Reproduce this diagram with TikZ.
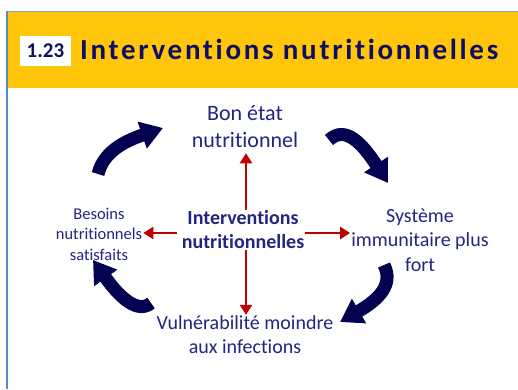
\documentclass[tikz,border=0pt]{standalone}
\usepackage{fontspec}
\setmainfont{Carlito}[Ligatures=NoCommon]
\newfontfamily\titlefont{Carlito}[LetterSpace=9.3,Ligatures=NoCommon]
\usetikzlibrary{arrows.meta}
\definecolor{hdr}{RGB}{255,198,11}
\definecolor{frameblue}{RGB}{92,138,200}
\definecolor{topgray}{RGB}{140,160,190}
\definecolor{titlenavy}{RGB}{14,14,100}
\definecolor{txtblue}{RGB}{36,36,130}
\definecolor{bignavy}{RGB}{2,2,80}
\definecolor{redarr}{RGB}{192,0,0}
\tikzset{
  txt/.style={align=center, text=txtblue, inner sep=1pt},
  redarrow/.style={draw=redarr, line width=2.8pt, -{Triangle[length=10pt,width=12pt]}},
  bigarrow/.style={draw=bignavy, line width=13pt, -{Triangle[length=22pt,width=27pt]}},
}
\begin{document}
\begin{tikzpicture}[x=1pt,y=-1pt]
\useasboundingbox (0,0) rectangle (518,389);
\fill[white] (0,0) rectangle (518,389);
\fill[hdr] (7,11) rectangle (518,87.5);
\draw[topgray, line width=1pt] (7,11.5) -- (518,11.5);
\draw[frameblue, line width=2pt] (7,11) -- (7,389);
\node[fill=white, minimum width=51pt, minimum height=30pt, inner sep=0, text=titlenavy] (num) at (45.5,51) {\bfseries\fontsize{21}{25}\selectfont 1.23};
\node[anchor=base west, inner sep=0, text=titlenavy] (title) at (80,59.5) {\titlefont\bfseries\fontsize{29}{35}\selectfont Interventions nutritionnelles};

\node[txt, font=\fontsize{22}{27}\selectfont] (bon) at (245,127) {Bon état\\nutritionnel};
\node[txt, font=\fontsize{20}{24.5}\selectfont] (sys) at (420,240) {Système\\immunitaire plus\\fort};
\node[txt, font=\fontsize{16.5}{20.5}\selectfont] (bes) at (99,234) {Besoins\\nutritionnels\\satisfaits};
\node[txt, font=\bfseries\fontsize{20}{24}\selectfont] (interv) at (243,230) {Interventions\\nutritionnelles};
\node[txt, font=\fontsize{20}{24}\selectfont] (vul) at (245,335) {Vulnérabilité moindre\\aux infections};

\draw[redarrow, shorten >=4pt] ([xshift=3pt]interv.north) -- ([xshift=3pt]interv.north |- bon.south);
\draw[redarrow] ([xshift=3pt]interv.south) -- ([xshift=3pt]interv.south |- vul.north);
\draw[redarrow, shorten <=4pt] ([yshift=-3pt]interv.west) -- ([yshift=-3pt]interv.west -| bes.east);
\draw[redarrow] ([yshift=-3pt]interv.east) -- ([yshift=-3pt]interv.east -| sys.west);

\coordinate (a1s) at (98,174);
\coordinate (a1e) at (163,128);
\coordinate (a2s) at (329,140);
\coordinate (a2e) at (388,183);
\coordinate (a3s) at (384,265);
\coordinate (a3e) at (340,322);
\coordinate (a4s) at (151,303);
\coordinate (a4e) at (93,260);
\draw[bigarrow] (a1s) .. controls (104,150) and (128,140) .. (a1e);
\draw[bigarrow] (a2s) .. controls (345,125) and (362,143) .. (a2e);
\draw[bigarrow] (a3s) .. controls (394,285) and (378,300) .. (a3e);
\draw[bigarrow] (a4s) .. controls (138,314) and (120,298) .. (a4e);
\end{tikzpicture}
\end{document}
